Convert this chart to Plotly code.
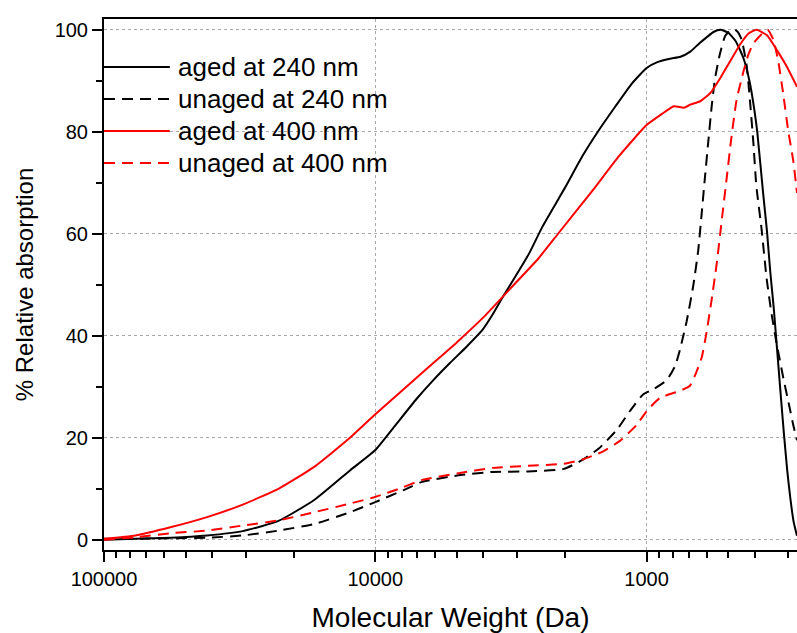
import numpy as np
import plotly.graph_objects as go

# ---------------- data ----------------
mw_aged_240 = [100000, 76600, 56500, 41700, 30800, 22750, 16800, 12400, 10000, 8620, 7050,
               6110, 5320, 4600, 4020, 3690, 3390, 3030, 2700, 2420, 1990, 1730, 1500, 1306, 1135, 1000,
               917, 820, 750, 690, 640, 598, 565, 534, 500, 470, 440, 416, 400, 391, 372, 360,
               350, 340, 330, 321, 312, 303, 295, 287, 279]
abs_aged_240 = [0.0, 0.2, 0.4, 0.85, 1.7, 3.7, 7.8, 13.6, 17.6, 21.8, 27.6,
                31.3, 34.6, 37.9, 41.2, 44.2, 47.6, 51.8, 56.3, 61.4, 69.2, 75.1, 80.3, 84.9, 89.4, 92.5,
                93.6, 94.3, 94.7, 95.7, 97.3, 98.6, 99.6, 100.0, 99.4, 97.8, 94.5, 89.5, 84.0, 80.0, 68.0, 60.5,
                52.5, 45.5, 37.0, 29.0, 21.0, 13.5, 8.0, 3.5, 0.8]

mw_unaged_240 = [100000, 76600, 56500, 41700, 30800, 22750, 16800, 12400, 10000, 7900, 6760,
                 4990, 3700, 2730, 2020, 1730, 1500, 1290, 1150, 1030, 945, 843, 785, 754, 712,
                 673, 645, 627, 610, 593, 576, 560, 537, 514, 493, 473, 460, 446, 428, 416, 404,
                 394, 377, 361, 346, 332, 313, 300, 288, 279]
abs_unaged_240 = [0.2, 0.2, 0.3, 0.4, 0.85, 1.8, 3.1, 5.4, 7.4, 9.7, 11.3,
                  12.6, 13.3, 13.4, 13.9, 15.6, 17.9, 21.5, 25.3, 28.5, 29.5, 31.3, 34.1, 37.2, 42.8,
                  49.8, 56.8, 63.8, 70.8, 77.8, 84.8, 90.3, 95.2, 98.7, 99.8, 100.0, 99.5, 98.0, 93.1, 86.2, 77.8,
                  69.4, 61.0, 51.2, 44.2, 38.6, 31.6, 27.0, 22.5, 19.5]

mw_aged_400 = [100000, 76600, 56500, 41700, 30800, 22750, 16800, 12400, 10000, 7940, 6310,
               5010, 3980, 3160, 2510, 2120, 1580, 1260, 1000, 888, 793, 729, 690, 633,
               582, 534, 491, 451, 420, 393, 360, 330, 303, 279]
abs_aged_400 = [0.2, 0.85, 2.5, 4.45, 6.9, 10.0, 14.3, 20.0, 24.6, 29.3, 34.0,
                38.7, 43.7, 49.4, 55.1, 60.0, 68.5, 75.3, 81.3, 83.3, 85.0, 84.7, 85.3, 86.0,
                87.6, 90.6, 93.9, 97.2, 99.3, 100.0, 98.9, 95.9, 92.6, 88.8]

mw_unaged_400 = [100000, 76600, 56500, 41700, 30800, 22750, 16800, 12400, 10000, 7900, 6760,
                 4990, 3700, 2730, 2020, 1730, 1450, 1254, 1089, 1000, 893, 754, 692, 654, 626,
                 601, 576, 552, 529, 507, 486, 466, 440, 421, 404, 377, 358, 341, 327, 314, 300,
                 288, 279]
abs_unaged_400 = [0.0, 0.5, 1.3, 1.8, 2.8, 3.8, 5.4, 7.1, 8.4, 10.3, 11.7,
                  13.0, 14.1, 14.5, 14.9, 15.7, 17.3, 19.4, 22.5, 25.2, 27.8, 29.2, 30.2, 33.0, 35.8,
                  40.7, 47.0, 54.0, 62.4, 70.8, 79.2, 86.2, 91.7, 95.2, 97.3, 99.1, 100.0, 98.0, 93.8, 87.6, 79.9,
                  74.3, 68.0]

series_names = ["aged at 240 nm", "unaged at 240 nm", "aged at 400 nm", "unaged at 400 nm"]
series_colors = ["black", "black", "red", "red"]
series_dash = ["solid", "11px,7px", "solid", "11px,7px"]

x_major = [100000, 10000, 1000]
x_major_text = ["100000", "10000", "1000"]
x_minor = [m * d for d in (100, 1000, 10000) for m in range(2, 10)]
y_major = [0, 20, 40, 60, 80, 100]

# ---------------- figure ----------------
FONT = "Arial, Liberation Sans, sans-serif"
x_range = [5, np.log10(279)]
y_range = [-2, 102.1]

fig = go.Figure()
data = [(mw_aged_240, abs_aged_240), (mw_unaged_240, abs_unaged_240),
        (mw_aged_400, abs_aged_400), (mw_unaged_400, abs_unaged_400)]
for (xs, ys), name, col, dash in zip(data, series_names, series_colors, series_dash):
    fig.add_trace(go.Scatter(x=xs, y=ys, mode="lines", name=name, showlegend=False,
                             line=dict(color=col, width=2, dash=dash, shape="spline", smoothing=0.5)))

# legend drawn in the plot's own domain coordinates
leg_y = [0.9096, 0.8493, 0.7891, 0.7288]
for name, col, dash, yy in zip(series_names, series_colors, series_dash, leg_y):
    fig.add_shape(type="line", xref="x domain", yref="y domain", x0=0, x1=0.095, y0=yy, y1=yy,
                  line=dict(color=col, width=2, dash=dash))
    fig.add_annotation(xref="x domain", yref="y domain", x=0.104, y=yy, text=name,
                       showarrow=False, xanchor="left", yanchor="middle",
                       font=dict(family=FONT, size=26, color="black"))

fig.update_layout(
    width=797, height=633,
    margin=dict(l=104, r=0, t=19, b=83),
    paper_bgcolor="white", plot_bgcolor="white",
    showlegend=False,
    xaxis=dict(type="log", range=x_range, tickmode="array", tickvals=x_major, ticktext=x_major_text,
               ticks="outside", ticklen=10, tickwidth=2, tickcolor="black",
               showline=True, linewidth=2, linecolor="black", mirror=True,
               showgrid=True, gridcolor="#a8a8a8", griddash="dot", gridwidth=1, zeroline=False,
               minor=dict(tickmode="array", tickvals=x_minor, ticks="outside", ticklen=6,
                          tickwidth=2, tickcolor="black", showgrid=False),
               tickfont=dict(family=FONT, size=20, color="black"),
               title=dict(text="Molecular Weight (Da)", font=dict(family=FONT, size=28, color="black"),
                          standoff=21)),
    yaxis=dict(range=y_range, tickmode="array", tickvals=y_major,
               ticks="outside", ticklen=10, tickwidth=2, tickcolor="black",
               showline=True, linewidth=2, linecolor="black", mirror=False,
               showgrid=True, gridcolor="#a8a8a8", griddash="dot", gridwidth=1, zeroline=False,
               minor=dict(dtick=10, tick0=0, ticks="outside", ticklen=6, tickwidth=2,
                          tickcolor="black", showgrid=False),
               tickfont=dict(family=FONT, size=20, color="black"),
               title=dict(text="% Relative absorption", font=dict(family=FONT, size=24, color="black"),
                          standoff=14)),
    xaxis2=dict(type="log", range=x_range, overlaying="x", side="top", anchor="y",
                tickmode="array", tickvals=x_major, ticks="inside", ticklen=10, tickwidth=2,
                tickcolor="black", showticklabels=False, showgrid=False, showline=False, zeroline=False,
                minor=dict(tickmode="array", tickvals=x_minor, ticks="inside", ticklen=6,
                           tickwidth=2, tickcolor="black", showgrid=False)),
    yaxis2=dict(range=y_range, overlaying="y", side="right", anchor="x",
                tickmode="array", tickvals=y_major, ticks="inside", ticklen=10, tickwidth=2,
                tickcolor="black", showticklabels=False, showgrid=False, showline=False, zeroline=False,
                minor=dict(dtick=10, tick0=0, ticks="inside", ticklen=6, tickwidth=2,
                           tickcolor="black", showgrid=False)),
)

fig.write_html("out.html", config={"displayModeBar": False},
               post_script="document.body.style.margin='0';document.body.style.overflow='hidden';")
